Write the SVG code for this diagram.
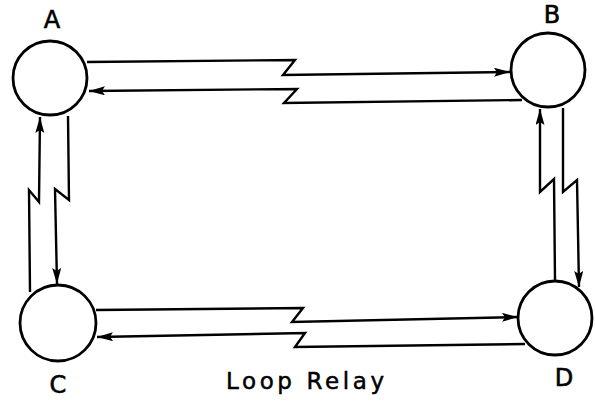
<svg xmlns="http://www.w3.org/2000/svg" width="595" height="402" viewBox="0 0 595 402">
  <style>
    .node { fill: #fff; stroke: #000; stroke-width: 2.8; }
    .lbl { font-family: "DejaVu Sans", "Liberation Sans", sans-serif; font-size: 24px; fill: #000; stroke: #000; stroke-width: 0.6; text-anchor: middle; }
    .link { fill: none; stroke: #000; stroke-width: 2.4; stroke-linejoin: miter; }
    .arr { marker-end: url(#head); }
  </style>
  <defs>
    <marker id="head" viewBox="0 0 16 9" refX="16" refY="4.5" markerWidth="16" markerHeight="9" markerUnits="userSpaceOnUse" orient="auto">
      <path d="M0,0 L16,4.5 L0,9 L3,4.5 Z" fill="#000"/>
    </marker>
  </defs>
  <rect width="595" height="402" fill="#fff"/>

  <!-- relay links with radio-style zigzag breaks -->
  <g id="connectors">
    <!-- A to B -->
    <path class="link arr" d="M87,62 L295,60 L283,75 L510,72"/>
    <!-- B to A -->
    <path class="link arr" d="M522,100 L284,103 L297,89 L89,91"/>
    <!-- C to D -->
    <path class="link arr" d="M96,310 L303,308 L292,322 L518,317"/>
    <!-- D to C -->
    <path class="link arr" d="M525,344 L295,347 L305,333 L97,337"/>
    <!-- C to A -->
    <path class="link arr" d="M30,292 L29,190 L39,202 L40,117"/>
    <!-- A to C -->
    <path class="link arr" d="M68,116 L69,200 L55,189 L57,284"/>
    <!-- D to B -->
    <path class="link arr" d="M555,280 L554,179 L540,192 L540,109"/>
    <!-- B to D -->
    <path class="link arr" d="M563,108 L563,192 L577,180 L579,287"/>
  </g>

  <g id="A">
    <circle class="node" cx="50" cy="78" r="37"/>
    <text class="lbl" x="52" y="28">A</text>
  </g>
  <g id="B">
    <circle class="node" cx="548" cy="70" r="37"/>
    <text class="lbl" x="552" y="23">B</text>
  </g>
  <g id="C">
    <circle class="node" cx="58" cy="323" r="38"/>
    <text class="lbl" x="58" y="393">C</text>
  </g>
  <g id="D">
    <circle class="node" cx="555" cy="318" r="37"/>
    <text class="lbl" x="564" y="386">D</text>
  </g>

  <text x="226" y="389" font-family="DejaVu Sans, sans-serif" font-size="23" letter-spacing="3.6" fill="#000" stroke="#000" stroke-width="0.5">Loop Relay</text>
</svg>
